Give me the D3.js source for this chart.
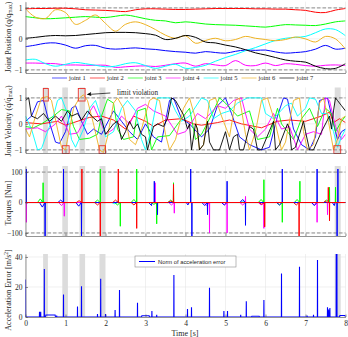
<!DOCTYPE html>
<html>
<head>
<meta charset="utf-8">
<script src="https://cdn.jsdelivr.net/npm/d3@7"></script>
<style>
  body { margin: 0; background: #fff; }
  text { font-family: "Liberation Serif", "DejaVu Serif", serif; fill: #262626; }
</style>
</head>
<body>
<div id="chart"></div>
<script>
// ---- data ----
const joints = ["joint 1", "joint 2", "joint 3", "joint 4", "joint 5", "joint 6", "joint 7"];
const jointColors = ["#0000ff", "#ff0000", "#00ff00", "#ff00ff", "#00ffff", "#edb120", "#000000"];

const xTicks = [0, 1, 2, 3, 4, 5, 6, 7, 8];
const posTicks = [-1, 0, 1];
const velTicks = [-1, 0, 1];
const torqueTicks = [-100, 0, 100];
const accTicks = [0, 20, 40];

// joint position, sampled every 0.25 s
const posStep = 0.25;
const pos1 = [-0.25,-0.2,-0.14,-0.13,-0.2,-0.3,-0.22,-0.21,-0.3,-0.33,-0.31,-0.29,-0.32,-0.34,-0.38,-0.41,-0.43,-0.46,-0.41,-0.44,-0.46,-0.4,-0.36,-0.37,-0.36,-0.42,-0.46,-0.44,-0.41,-0.33,-0.21,-0.33,-0.3];
const pos2 = [0.97,0.98,0.98,0.99,0.99,0.97,0.94,0.93,0.92,0.9,0.88,0.94,0.97,0.97,0.96,0.95,0.95,0.96,0.97,0.98,0.98,0.98,0.98,0.97,0.97,0.96,0.96,0.94,0.92,0.86,0.85,0.93,0.98];
const pos3 = [0.72,0.68,0.65,0.66,0.68,0.7,0.72,0.7,0.69,0.73,0.77,0.72,0.65,0.6,0.58,0.52,0.55,0.52,0.48,0.46,0.45,0.44,0.42,0.4,0.38,0.42,0.46,0.45,0.44,0.43,0.48,0.55,0.58];
const pos4 = [-0.78,-0.78,-0.79,-0.8,-0.84,-0.84,-0.85,-0.85,-0.85,-0.92,-0.9,-0.88,-0.87,-0.89,-0.85,-0.8,-0.78,-0.88,-0.8,-0.84,-0.86,-0.7,-0.85,-0.86,-0.78,-0.86,-0.8,-0.82,-0.86,-0.88,-0.85,-0.84,-0.86];
const pos5 = [-0.68,-0.66,-0.8,-0.88,-0.82,-0.76,-0.8,-0.85,-0.9,-0.88,-0.8,-0.77,-0.86,-0.95,-0.88,-0.82,-0.95,-0.92,-0.85,-0.72,-0.6,-0.5,-0.38,-0.28,-0.16,-0.05,0.02,0.05,0.08,0.2,0.32,0.3,0.1];
const pos6 = [0.97,0.7,0.66,0.94,0.85,0.47,0.6,0.77,0.5,0.25,0.47,0.55,0.46,0.3,0.12,0.02,0.1,-0.14,-0.05,0.02,-0.06,-0.02,0.08,0.02,-0.02,-0.06,-0.02,0.06,0.0,-0.1,0.08,0.0,-0.33];
const pos7 = [0.02,0.05,0.09,0.11,0.1,0.11,0.14,0.17,0.2,0.21,0.21,0.2,0.17,0.12,-0.02,0.02,0.11,0.05,-0.1,-0.13,-0.2,-0.26,-0.35,-0.45,-0.52,-0.6,-0.68,-0.72,-0.75,-0.88,-0.96,-0.95,-0.8];
const positions = [pos1, pos2, pos3, pos4, pos5, pos6, pos7];

// joint velocity, breakpoints [t, v]
const vel1 = [[0,0.1],[0.15,0.3],[0.3,0.85],[0.45,0.9],[0.55,0.3],[0.75,-0.7],[0.85,-0.75],[1.0,-0.3],[1.15,0.6],[1.25,0.7],[1.4,0.1],[1.55,-0.4],[1.7,-0.2],[1.9,-0.4],[2.0,-0.1],[2.2,0.5],[2.4,0.1],[2.6,-0.3],[2.8,-0.6],[3.0,0.0],[3.2,-0.5],[3.4,-0.7],[3.6,0.9],[3.7,1.0],[3.9,0.2],[4.1,0.0],[4.4,-0.5],[4.6,-0.2],[4.8,0.7],[5.0,1.0],[5.15,0.4],[5.35,-0.5],[5.6,-0.8],[5.9,-1.0],[6.1,-0.9],[6.3,0.3],[6.45,1.0],[6.55,0.95],[6.7,-0.2],[6.9,-0.8],[7.1,-1.0],[7.25,-0.5],[7.35,0.9],[7.55,1.0],[7.7,0.0],[7.8,-0.6],[7.9,-0.3],[8.0,-0.2]];
const vel2 = [[0,0.05],[0.4,0.0],[0.8,0.1],[1.0,-0.05],[1.2,0.05],[1.6,0.25],[1.9,0.3],[2.2,0.15],[2.5,-0.2],[2.7,0.3],[3.0,0.1],[3.2,-0.1],[3.5,0.15],[3.9,0.2],[4.2,0.0],[4.4,-0.05],[4.8,0.05],[5.1,0.15],[5.4,0.0],[5.9,-0.15],[6.3,0.1],[6.6,0.15],[7.0,0.1],[7.4,0.3],[7.6,0.45],[7.7,0.05],[7.85,0.2],[8.0,0.05]];
const vel3 = [[0,-0.1],[0.2,-0.15],[0.4,0.0],[0.7,0.3],[0.9,0.55],[1.1,0.5],[1.2,-0.1],[1.35,-0.6],[1.6,-0.55],[1.8,-0.4],[1.9,0.3],[2.05,0.95],[2.2,0.8],[2.3,-0.2],[2.45,-0.6],[2.7,-0.5],[2.8,0.5],[3.0,0.6],[3.15,-1.0],[3.3,-0.5],[3.6,-0.45],[3.9,0.2],[4.1,0.6],[4.25,-0.6],[4.4,-0.4],[4.7,0.5],[4.85,1.0],[5.0,0.8],[5.3,0.3],[5.6,0.5],[5.8,-0.6],[6.1,-0.5],[6.3,0.6],[6.4,0.0],[6.7,-0.6],[6.9,0.2],[7.1,0.6],[7.3,-0.1],[7.5,0.6],[7.65,0.4],[7.75,-0.3],[7.9,0.1],[8.0,0.3]];
const vel4 = [[0,-0.2],[0.3,-0.15],[0.5,-0.3],[0.75,0.0],[0.9,0.3],[1.1,-0.4],[1.3,-0.35],[1.5,0.2],[1.7,0.7],[1.85,0.2],[2.0,-0.4],[2.2,-0.2],[2.4,0.3],[2.6,0.0],[2.8,0.6],[3.0,0.75],[3.2,0.5],[3.5,0.3],[3.8,-0.4],[4.0,-0.3],[4.3,0.4],[4.5,0.2],[4.8,0.7],[5.0,0.6],[5.2,0.9],[5.4,1.0],[5.6,-0.2],[5.8,-0.5],[6.0,-0.2],[6.2,0.4],[6.4,-0.2],[6.6,-0.1],[6.8,-1.0],[7.0,-0.4],[7.2,-0.3],[7.4,-0.4],[7.5,1.0],[7.6,0.9],[7.75,-0.1],[7.9,-0.6],[8.0,-0.4]];
const vel5 = [[0,0.3],[0.15,-0.2],[0.3,-1.0],[0.4,-0.95],[0.55,-0.3],[0.7,0.3],[0.8,0.9],[0.9,1.0],[1.05,0.4],[1.15,-0.6],[1.25,-0.9],[1.45,-0.2],[1.6,0.6],[1.75,0.9],[1.9,0.2],[2.0,-0.5],[2.2,-0.3],[2.4,0.6],[2.55,0.9],[2.75,0.5],[2.9,-0.6],[3.0,-1.0],[3.15,-0.2],[3.3,1.0],[3.6,1.0],[3.75,0.5],[3.9,0.1],[4.1,0.3],[4.4,1.0],[4.55,0.9],[4.7,0.2],[4.9,0.4],[5.1,0.5],[5.3,0.8],[5.55,1.0],[5.9,1.0],[6.0,0.4],[6.2,0.2],[6.5,0.7],[6.65,0.8],[6.8,0.3],[7.0,0.6],[7.1,1.0],[7.25,0.95],[7.4,0.4],[7.55,0.4],[7.7,-0.3],[7.8,-0.9],[7.9,-0.5],[8.0,-0.2]];
const vel6 = [[0,-0.2],[0.1,-0.5],[0.25,0.3],[0.4,1.0],[0.55,1.05],[0.65,0.9],[0.8,-0.2],[0.9,-0.9],[1.0,-1.0],[1.05,-0.6],[1.2,0.6],[1.35,1.0],[1.45,1.12],[1.55,0.9],[1.7,0.0],[1.85,-1.0],[1.95,-1.1],[2.05,-0.5],[2.2,0.8],[2.3,1.0],[2.45,0.6],[2.6,-0.6],[2.75,-0.8],[2.9,-0.2],[3.1,0.9],[3.2,1.0],[3.35,0.9],[3.5,-0.4],[3.6,-1.0],[3.75,-0.6],[3.95,0.6],[4.1,1.0],[4.25,0.2],[4.35,-1.0],[4.45,-0.8],[4.6,0.9],[4.75,1.0],[4.9,0.3],[5.1,-0.5],[5.25,0.9],[5.35,1.0],[5.5,-0.4],[5.6,-1.0],[5.75,-0.3],[5.9,0.9],[6.05,1.0],[6.25,0.0],[6.4,-1.0],[6.5,-0.7],[6.7,0.9],[6.85,1.0],[6.95,-0.3],[7.05,-1.0],[7.2,-0.8],[7.35,0.8],[7.45,1.0],[7.55,0.3],[7.7,-1.0],[7.8,-0.6],[7.9,0.2],[8.0,0.3]];
const vel7 = [[0,0.9],[0.08,1.0],[0.15,0.3],[0.3,0.2],[0.45,0.4],[0.6,0.1],[0.75,0.3],[0.9,0.1],[1.05,0.5],[1.15,0.3],[1.3,0.4],[1.4,0.15],[1.55,0.5],[1.65,0.3],[1.8,0.1],[1.9,0.2],[2.0,-0.4],[2.1,-0.2],[2.2,0.0],[2.3,0.1],[2.4,-0.6],[2.5,-0.3],[2.6,0.1],[2.7,-0.2],[2.8,0.0],[2.9,-0.4],[3.0,-0.5],[3.05,-1.0],[3.2,-0.1],[3.3,0.0],[3.45,-0.1],[3.55,0.2],[3.65,1.0],[3.75,0.9],[3.95,0.35],[4.05,-0.2],[4.1,0.0],[4.15,-1.0],[4.25,0.0],[4.3,-0.2],[4.35,-1.0],[4.45,-0.8],[4.55,0.1],[4.6,-0.7],[4.7,-1.0],[4.85,-1.0],[5.0,-0.3],[5.1,-1.0],[5.2,-0.5],[5.3,-0.4],[5.35,-1.0],[5.45,-1.0],[5.6,-0.1],[5.7,-0.2],[5.8,-1.0],[5.9,-1.0],[6.2,0.1],[6.25,-1.0],[6.35,-0.8],[6.55,0.0],[6.6,-0.2],[6.65,-1.0],[6.75,-0.9],[6.95,0.1],[7.0,-0.3],[7.1,-1.0],[7.2,-1.0],[7.4,-0.3],[7.6,0.3],[7.65,-0.2],[7.7,0.5],[7.75,1.0],[7.8,0.9],[7.9,0.7],[8.0,0.5]];
const velocities = [vel1, vel2, vel3, vel4, vel5, vel6, vel7];

// torque spikes [t, peak, small hump before]
const torque1 = [[0.02,110,0],[0.49,-110,-15],[0.95,110,8],[1.4,-110,-12],[3.22,70,-10],[3.3,-40,0],[4.13,110,-8],[4.16,-110,0],[4.55,-40,-10],[5.04,70,-8],[5.5,-75,10],[6.42,110,-8],[7.29,110,-10],[7.79,-110,-10],[7.81,110,0]];
const torque2 = [[1.41,110,6],[1.87,-110,-8],[2.32,110,8],[2.78,-85,-8],[3.7,60,5],[5.98,-80,-6],[6.84,-110,-8],[7.57,50,6],[7.6,-60,0]];
const torque3 = [[0.44,65,12],[1.87,110,8],[2.37,-78,-8],[2.78,110,10],[3.28,-70,-6],[3.7,65,8],[5.96,75,10],[6.42,-65,-8],[6.86,70,10],[7.6,50,8],[7.75,50,0]];
const torque4 = [[0.02,-65,0],[0.97,-45,-10],[3.24,65,0],[3.72,-35,-8],[4.6,-100,-10],[5.04,-100,-8],[5.5,20,-8],[5.96,-85,-8],[7.29,-65,-8],[7.55,-40,0]];
const torque5 = [[0.5,-6,4],[2.3,5,-4],[5.5,-5,3]];
const torque6 = [];
const torque7 = [];
const torques = [torque1, torque2, torque3, torque4, torque5, torque6, torque7];

// norm of acceleration error: spikes [t, value] and low plateaus [t0, t1, value]
const accSpikes = [[0,25],[0.35,3.5],[0.38,3.5],[0.47,32],[0.78,1],[0.95,15],[1.3,7],[1.4,20.5],[1.8,2],[1.88,25.5],[2.0,2],[2.24,4.7],[2.35,18],[2.8,9.5],[3.16,4],[3.28,1.5],[3.71,28],[4.05,5.3],[4.15,6.5],[4.6,19.5],[4.96,4],[5.05,4],[5.38,1.5],[5.52,10.5],[5.96,11.3],[6.4,29],[6.85,33.5],[7.04,1],[7.2,1.5],[7.3,38],[7.55,6.5],[7.58,5],[7.61,6],[7.77,60],[7.785,60]];
const accPlateaus = [[0.5,0.75,1.3],[2.9,3.1,0.8],[5.65,5.85,0.5],[7.85,8.0,1]];

// shaded intervals and limit violations
const violationBands = [[0.44,0.56],[0.92,1.06],[1.35,1.49],[1.85,1.99],[7.73,7.88]];
const violationBoxes = [[0.445,0.57,"top"],[1.32,1.49,"top"],[0.92,1.09,"bottom"],[1.84,2.0,"bottom"],[7.71,7.88,"bottom"]];

// ---- drawing ----
const W = 348, H = 337;
const svg = d3.select("#chart").append("svg").attr("width", W).attr("height", H);
const x = d3.scaleLinear().domain([0, 8]).range([25.5, 345.5]);

const panels = [
  { id: "pos", y: d3.scaleLinear().domain([-1.1, 1.2]).range([73, 1.7]), ticks: posTicks, limits: [-1, 1], labelY: 37 },
  { id: "vel", y: d3.scaleLinear().domain([-1.12, 1.4]).range([153, 87.5]), ticks: velTicks, limits: [-1, 1], bands: true, labelY: 121 },
  { id: "tau", y: d3.scaleLinear().domain([-110, 120]).range([236, 166]), ticks: torqueTicks, limits: [-100, 100], bands: true, labelY: 203 },
  { id: "acc", y: d3.scaleLinear().domain([0, 42]).range([317, 254]), ticks: accTicks, bands: true, xLabels: true, labelY: 290 }
];

panels.forEach(p => {
  const [bottom, top] = p.y.range();
  p.g = svg.append("g");
  svg.append("clipPath").attr("id", "clip-" + p.id)
    .append("rect").attr("x", x(0)).attr("y", top).attr("width", x(8) - x(0)).attr("height", bottom - top);

  // grid
  p.g.append("g").selectAll("line").data(xTicks).enter().append("line")
    .attr("x1", d => x(d)).attr("x2", d => x(d)).attr("y1", top).attr("y2", bottom)
    .attr("stroke", "#e6e6e6").attr("stroke-width", 0.6);
  p.g.append("g").selectAll("line").data(p.ticks).enter().append("line")
    .attr("x1", x(0)).attr("x2", x(8)).attr("y1", d => p.y(d)).attr("y2", d => p.y(d))
    .attr("stroke", "#e6e6e6").attr("stroke-width", 0.6);

  // shaded violation intervals
  if (p.bands) {
    p.g.append("g").selectAll("rect").data(violationBands).enter().append("rect")
      .attr("x", d => x(d[0])).attr("width", d => x(d[1]) - x(d[0]))
      .attr("y", top).attr("height", bottom - top)
      .attr("fill", "#dcdcdc");
  }

  // limits
  if (p.limits) {
    p.g.append("g").selectAll("line").data(p.limits).enter().append("line")
      .attr("x1", x(0)).attr("x2", x(8)).attr("y1", d => p.y(d)).attr("y2", d => p.y(d))
      .attr("stroke", "#8c8c8c").attr("stroke-width", 1).attr("stroke-dasharray", "3.5,2");
  }

  p.plot = p.g.append("g").attr("clip-path", "url(#clip-" + p.id + ")");
});

// position lines
const pPos = panels[0];
const posLine = d3.line().x((d, i) => x(i * posStep)).y(d => pPos.y(d)).curve(d3.curveCatmullRom);
pPos.plot.selectAll("path").data(positions).enter().append("path")
  .attr("d", posLine).attr("fill", "none")
  .attr("stroke", (d, i) => jointColors[i]).attr("stroke-width", 1);

// velocity lines
const pVel = panels[1];
const velLine = d3.line().x(d => x(d[0])).y(d => pVel.y(d[1]));
pVel.plot.selectAll("path").data(velocities).enter().append("path")
  .attr("d", velLine).attr("fill", "none")
  .attr("stroke", (d, i) => jointColors[i]).attr("stroke-width", 0.9);

// violation boxes
pVel.g.append("g").selectAll("rect").data(violationBoxes).enter().append("rect")
  .attr("x", d => x(d[0])).attr("width", d => x(d[1]) - x(d[0]))
  .attr("y", d => d[2] === "top" ? pVel.y(1.36) : pVel.y(-0.84))
  .attr("height", d => d[2] === "top" ? pVel.y(0.88) - pVel.y(1.36) : pVel.y(-1.14) - pVel.y(-0.84))
  .attr("fill", "none").attr("stroke", "#e8302a").attr("stroke-width", 0.9);

// annotation arrow
const ay = pVel.y(1.15);
svg.append("line").attr("x1", x(2.12)).attr("x2", x(1.56)).attr("y1", ay - 1).attr("y2", ay + 0.5)
  .attr("stroke", "#000").attr("stroke-width", 0.7);
svg.append("path")
  .attr("d", `M${x(1.53)},${ay + 0.6} l4.5,-2.6 l-0.6,2.2 l0.9,1.8 z`)
  .attr("fill", "#000");
svg.append("text").attr("x", x(2.29)).attr("y", ay + 1).style("font-size", "7.2px").text("limit violation");

// torques: flat joints first, red baseline last so it sits on top near zero
const pTau = panels[2];
function torquePoints(spikes) {
  const pts = [[0, 0], [8, 0]];
  spikes.forEach(([t, p, h]) => {
    pts.push([t - 0.14, 0], [t - 0.07, h], [t - 0.004, 0], [t, p], [t + 0.004, 0]);
  });
  return pts.filter(d => d[0] >= 0 && d[0] <= 8).sort((a, b) => a[0] - b[0]);
}
const tauLine = d3.line().x(d => x(d[0])).y(d => pTau.y(d[1]));
const tauOrder = [6, 5, 4, 2, 3, 0, 1];
pTau.plot.selectAll("path").data(tauOrder).enter().append("path")
  .attr("d", i => tauLine(torquePoints(torques[i]))).attr("fill", "none")
  .attr("stroke", i => jointColors[i]).attr("stroke-width", 1);

// acceleration error
const pAcc = panels[3];
const accPts = [[0, 0], [8, 0]];
accSpikes.forEach(([t, v]) => accPts.push([Math.max(0, t - 0.003), t === 0 ? v : 0], [t, v], [t + 0.003, 0]));
accPlateaus.forEach(([t0, t1, v]) => accPts.push([t0, 0], [t0 + 0.01, v], [t1 - 0.01, v], [t1, 0]));
accPts.sort((a, b) => a[0] - b[0]);
const accLine = d3.line().x(d => x(d[0])).y(d => pAcc.y(d[1]));
pAcc.plot.append("path").attr("d", accLine(accPts)).attr("fill", "none")
  .attr("stroke", "#0000ff").attr("stroke-width", 1.1);

// axes
panels.forEach(p => {
  const [bottom] = p.y.range();
  const ax = d3.axisBottom(x).tickValues(xTicks).tickSizeInner(-2.5).tickSizeOuter(0).tickPadding(4)
    .tickFormat(p.xLabels ? d3.format("d") : "");
  const gx = svg.append("g").attr("transform", `translate(0,${bottom})`).call(ax);
  const ay2 = d3.axisLeft(p.y).tickValues(p.ticks).tickSizeInner(-2.5).tickSizeOuter(0).tickPadding(3)
    .tickFormat(d3.format("d"));
  const gy = svg.append("g").attr("transform", `translate(${x(0)},0)`).call(ay2);
  [gx, gy].forEach(g => {
    g.select(".domain").attr("stroke", "#4d4d4d").attr("stroke-width", 0.6);
    g.selectAll(".tick line").attr("stroke", "#4d4d4d").attr("stroke-width", 0.6);
    g.selectAll(".tick text").style("font-family", '"Liberation Serif", serif').style("font-size", "7.5px").attr("fill", "#262626");
  });
});

// y labels
function yLabel(cy, parts) {
  const t = svg.append("text").attr("transform", `translate(10.5,${cy}) rotate(-90)`)
    .attr("text-anchor", "middle").style("font-size", "8px");
  parts.forEach(([s, kind]) => {
    const ts = t.append("tspan").text(s);
    if (kind === "sub") ts.attr("dy", 1.8).style("font-size", "5.5px");
    if (kind === "sup") ts.attr("dy", -3).style("font-size", "5.5px");
    if (kind === "back") ts.attr("dy", -1.8);
    if (kind === "down") ts.attr("dy", 3);
  });
}
yLabel(panels[0].labelY, [["Joint Position (q/q"], ["max", "sub"], [")", "back"]]);
yLabel(panels[1].labelY, [["Joint Velocity (q\u0307/q\u0307"], ["max", "sub"], [")", "back"]]);
yLabel(panels[2].labelY, [["Torques [Nm]"]]);
yLabel(panels[3].labelY, [["Acceleration Error [m/s"], ["2", "sup"], ["]", "down"]]);

svg.append("text").attr("x", 185).attr("y", 336).attr("text-anchor", "middle")
  .style("font-size", "8px").text("Time [s]");

// joint legend
const leg = svg.append("g").selectAll("g").data(joints).enter().append("g")
  .attr("transform", (d, i) => `translate(${52 + i * 37.9},78)`);
leg.append("line").attr("x1", 0).attr("x2", 15).attr("y1", 0).attr("y2", 0)
  .attr("stroke", (d, i) => jointColors[i]).attr("stroke-width", 1).attr("stroke-opacity", 0.65);
leg.append("text").attr("x", 17).attr("y", 2.2).style("font-size", "6.5px").text(d => d);

// acceleration legend
const accLeg = svg.append("g").attr("transform", "translate(135,256)");
accLeg.append("rect").attr("width", 101).attr("height", 11).attr("fill", "#fff")
  .attr("stroke", "#8c8c8c").attr("stroke-width", 0.6);
accLeg.append("line").attr("x1", 4).attr("x2", 20).attr("y1", 5.5).attr("y2", 5.5)
  .attr("stroke", "#0000ff").attr("stroke-width", 1);
accLeg.append("text").attr("x", 23).attr("y", 7.6)
  .style("font-family", '"Liberation Sans", Arial, sans-serif').style("font-size", "5.8px")
  .text("Norm of acceleration error");
</script>
</body>
</html>
